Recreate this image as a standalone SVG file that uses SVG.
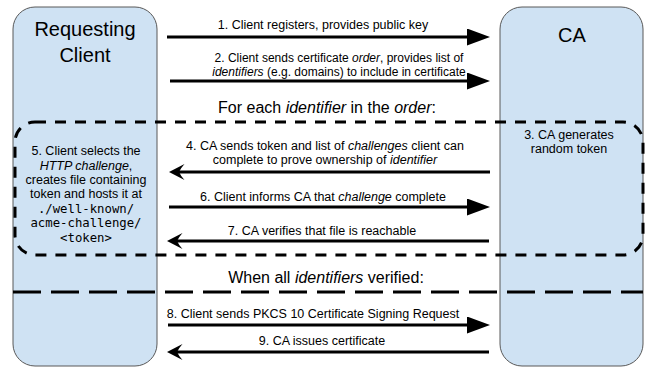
<svg xmlns="http://www.w3.org/2000/svg" width="647" height="369" viewBox="0 0 647 369">
<style>
.box{fill:#cfe2f3;stroke:#595959;stroke-width:1}
.title{font-family:"Liberation Sans",Arial,sans-serif;font-size:20px;fill:#000;text-anchor:middle}
.lbl{font-family:"Liberation Sans",Arial,sans-serif;font-size:12.5px;fill:#000;text-anchor:middle}
.hd{font-family:"Liberation Sans",Arial,sans-serif;font-size:16px;fill:#000;text-anchor:middle}
.mono{font-family:"DejaVu Sans Mono","Liberation Mono",monospace;font-size:12.3px}
.it{font-style:italic}
.arr{stroke:#000;stroke-width:3;fill:none}
.r{marker-end:url(#headR)}
.l{marker-end:url(#headL)}
.loop{fill:none;stroke:#000;stroke-width:3;stroke-dasharray:11 9}
.sep{fill:none;stroke:#000;stroke-width:3;stroke-dasharray:28 10}
</style>
<defs>
<marker id="headR" viewBox="0 0 23 17" refX="13" refY="8.5" markerWidth="23" markerHeight="17" markerUnits="userSpaceOnUse" orient="auto">
<path d="M0,0 L23,8.5 L0,17 Z" fill="#000"/>
</marker>
<marker id="headL" viewBox="0 0 16 17" refX="8" refY="8.5" markerWidth="16" markerHeight="17" markerUnits="userSpaceOnUse" orient="auto">
<path d="M16,8.5 L0.5,0.5 Q4.5,5 6,8.5 Q4.5,12 0.5,16.5 Z" fill="#000"/>
</marker>
</defs>

<g id="client">
<rect class="box" x="13" y="7" width="144" height="359" rx="22"/>
<text class="title" x="85" y="36">Requesting</text>
<text class="title" x="85" y="62">Client</text>
</g>

<g id="ca">
<rect class="box" x="500" y="7" width="143" height="359" rx="22"/>
<text class="title" x="572" y="42">CA</text>
</g>

<g id="step5">
<text class="lbl" x="86" y="155">5. Client selects the</text>
<text class="lbl" x="86" y="170"><tspan class="it">HTTP challenge</tspan>,</text>
<text class="lbl" x="86" y="184">creates file containing</text>
<text class="lbl" x="86" y="198">token and hosts it at</text>
<text class="lbl mono" x="86" y="213">./well-known/</text>
<text class="lbl mono" x="86" y="227">acme-challenge/</text>
<text class="lbl mono" x="86" y="242">&lt;token&gt;</text>
</g>

<g id="step3">
<text class="lbl" x="569" y="139">3. CA generates</text>
<text class="lbl" x="569" y="153">random token</text>
</g>

<g id="loop">
<rect class="loop" x="15" y="122" width="628" height="133" rx="20"/>
<text class="hd" x="327" y="113">For each <tspan class="it">identifier</tspan> in the <tspan class="it">order</tspan>:</text>
</g>

<g id="final">
<line class="sep" x1="13" y1="292" x2="643" y2="292"/>
<text class="hd" x="326" y="283">When all <tspan class="it">identifiers</tspan> verified:</text>
</g>

<g id="connectors">
<line class="arr r" x1="167" y1="37" x2="480" y2="37"/>
<text class="lbl" x="323" y="29">1. Client registers, provides public key</text>

<line class="arr r" x1="170" y1="81" x2="480" y2="81"/>
<text class="lbl" x="339" y="62" style="font-size:12px">2. Client sends certificate <tspan class="it">order</tspan>, provides list of</text>
<text class="lbl" x="339" y="75.5" style="font-size:12px"><tspan class="it">identifiers</tspan> (e.g. domains) to include in certificate</text>

<line class="arr l" x1="490" y1="172" x2="177" y2="172"/>
<text class="lbl" x="325" y="150">4. CA sends token and list of <tspan class="it">challenges</tspan> client can</text>
<text class="lbl" x="325" y="164">complete to prove ownership of <tspan class="it">identifier</tspan></text>

<line class="arr r" x1="169" y1="207" x2="480" y2="207"/>
<text class="lbl" x="323" y="201">6. Client informs CA that <tspan class="it">challenge</tspan> complete</text>

<line class="arr l" x1="489" y1="241" x2="175" y2="241"/>
<text class="lbl" x="322" y="235">7. CA verifies that file is reachable</text>

<line class="arr r" x1="168" y1="325" x2="480" y2="325"/>
<text class="lbl" x="313" y="318">8. Client sends PKCS 10 Certificate Signing Request</text>

<line class="arr l" x1="489" y1="352" x2="175" y2="352"/>
<text class="lbl" x="322" y="345">9. CA issues certificate</text>
</g>
</svg>
